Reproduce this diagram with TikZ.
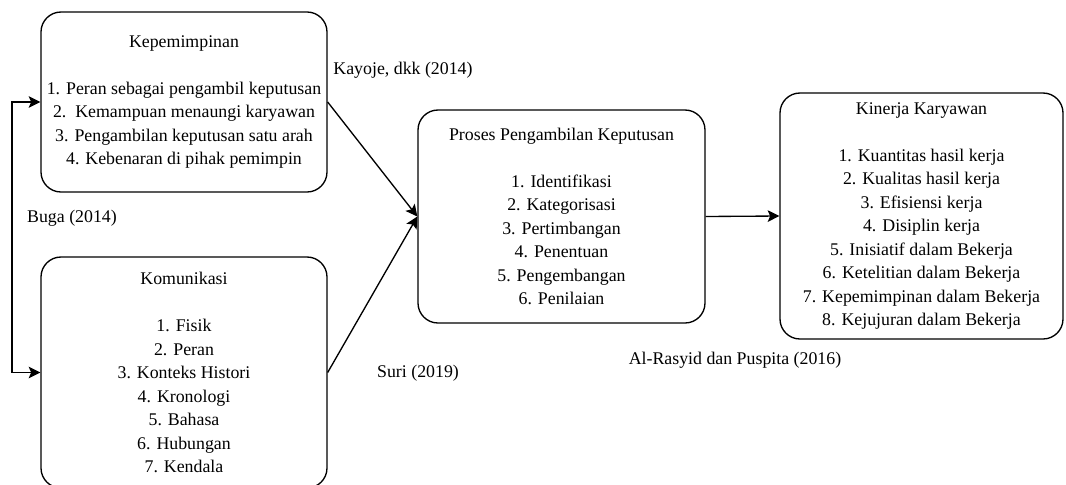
\documentclass[tikz,border=0pt]{standalone}
\usepackage{fontspec}
\setmainfont{Liberation Serif}
\usetikzlibrary{arrows.meta}
\tikzset{
  kotak/.style={draw,line width=0.8pt,rounded corners=12pt,align=center,inner sep=2pt},
  panah/.style={line width=0.8pt,-{Stealth[length=7pt,width=7pt,inset=1.5pt]}},
  sumber/.style={inner sep=0pt}
}
\begin{document}
\begin{tikzpicture}[x=0.6pt,y=-0.6pt,font=\fontsize{10.7}{14.1}\selectfont]
\useasboundingbox (0,0) rectangle (1066,484);
% kotak-kotak variabel
\node[kotak,minimum width=171.6pt,minimum height=108pt] (kep) at (184,102)
  {Kepemimpinan\\ \\1. Peran sebagai pengambil keputusan\\2.\ \ Kemampuan menaungi karyawan\\3. Pengambilan keputusan satu arah\\4. Kebenaran di pihak pemimpin};
\node[kotak,minimum width=171.6pt,minimum height=138.6pt] (kom) at (184,372.5)
  {Komunikasi\\ \\1. Fisik\\2. Peran\\3. Konteks Histori\\4. Kronologi\\5. Bahasa\\6. Hubungan\\7. Kendala};
\node[kotak,minimum width=172.2pt,minimum height=127.8pt] (proses) at (561.5,216.5)
  {Proses Pengambilan Keputusan\\ \\1. Identifikasi\\2. Kategorisasi\\3. Pertimbangan\\4. Penentuan\\5. Pengembangan\\6. Penilaian};
\node[kotak,minimum width=169.8pt,minimum height=147.6pt] (kinerja) at (921.5,216)
  {Kinerja Karyawan\\ \\1. Kuantitas hasil kerja\\2. Kualitas hasil kerja\\3. Efisiensi kerja\\4. Disiplin kerja\\5. Inisiatif dalam Bekerja\\6. Ketelitian dalam Bekerja\\7. Kepemimpinan dalam Bekerja\\8. Kejujuran dalam Bekerja};
% sumber
\node[sumber] (kayoje) at (403,70) {Kayoje, dkk (2014)};
\node[sumber] (buga) at (72,218) {Buga (2014)};
\node[sumber] (suri) at (418,373) {Suri (2019)};
\node[sumber] (rasyid) at (735,360) {Al-Rasyid dan Puspita (2016)};
% panah
\coordinate (kiri) at (12,0);
\draw[panah] (kep.east) -- (proses.west);
\draw[panah] (kom.east) -- (proses.west);
\draw[panah] (proses.east) -- (kinerja.west);
\draw[panah,{Stealth[length=7pt,width=7pt,inset=1.5pt]}-{Stealth[length=7pt,width=7pt,inset=1.5pt]}] (kep.west) -- (kep.west -| kiri) -- (kom.west -| kiri) -- (kom.west);
\end{tikzpicture}
\end{document}
